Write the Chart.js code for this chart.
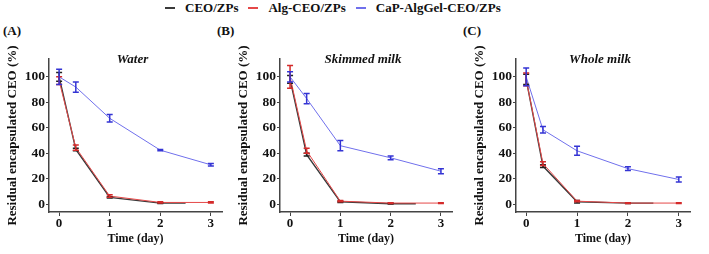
<!DOCTYPE html>
<html>
<head>
<meta charset="utf-8">
<script src="https://cdn.jsdelivr.net/npm/chart.js@4.4.1/dist/chart.umd.min.js"></script>
<style>
    body { margin: 0; background: #fff; }
    #wrap { position: relative; width: 709px; height: 254px; font-family: "Liberation Serif", "Times New Roman", serif; font-weight: bold; color: #111; }
    .panel { position: absolute; top: 0; height: 254px; }
    .lbl { position: absolute; top: 23px; font-size: 13px; line-height: 16px; }
    #legend { position: absolute; top: 0; left: 165px; height: 16px; display: flex; align-items: center; font-size: 13px; white-space: nowrap; }
    #legend .item { display: flex; align-items: center; margin-right: 10px; }
    #legend .sw { display: inline-block; width: 10px; height: 2px; margin-right: 10px; }
</style>
</head>
<body>
<div id="wrap">
    <div id="legend"></div>
    <div class="lbl" style="left:3px">(A)</div>
    <div class="lbl" style="left:217px">(B)</div>
    <div class="lbl" style="left:463px">(C)</div>
    <div class="panel" style="left:0;width:230px"><canvas id="chartA"></canvas></div>
    <div class="panel" style="left:231px;width:230px"><canvas id="chartB"></canvas></div>
    <div class="panel" style="left:467px;width:242px"><canvas id="chartC"></canvas></div>
</div>
<script>
// Datos (tiempo en dias)
const days = [0, 0.33, 1, 2, 3];
const ceoDays = [0, 0.33, 1, 2, 2.5];
const xTicks = [0, 1, 2, 3];
const yTicks = [0, 20, 40, 60, 80, 100];
const seriesNames = ['CEO/ZPs', 'Alg-CEO/ZPs', 'CaP-AlgGel-CEO/ZPs'];
const panelTitles = ['Water', 'Skimmed milk', 'Whole milk'];

// (A) Water
const waterCeo = [100, 43, 5.5, 1, 1];
const waterCeoErr = [3.5, 1, 0.5, 0.3, 0];
const waterAlg = [97, 44.5, 6.5, 1.5, 1.5];
const waterAlgErr = [3, 2, 1, 0.5, 0.5];
const waterCap = [100, 92, 67.5, 42.5, 31];
const waterCapErr = [6, 4, 3, 0.5, 1];

// (B) Skimmed milk
const skimCeo = [98, 39, 2, 0.5, 0.5];
const skimCeoErr = [3, 1, 0.5, 0.3, 0];
const skimAlg = [100, 42, 2.5, 1, 1];
const skimAlgErr = [9, 2, 0.5, 0.3, 0.3];
const skimCap = [100, 83, 46, 36.5, 26];
const skimCapErr = [4, 4, 4, 1.5, 2];

// (C) Whole milk
const wholeCeo = [98, 30, 2, 1, 1];
const wholeCeoErr = [4, 1, 1, 0.3, 0];
const wholeAlg = [98, 32, 2.5, 1, 1];
const wholeAlgErr = [5, 1.5, 0.5, 0.3, 0.3];
const wholeCap = [100, 58.5, 42, 28, 19.5];
const wholeCapErr = [7, 2.5, 3.5, 1.5, 2];

const lineColors = ['#3a3a3a', '#e54848', '#7070ec'];
const errColors = ['#222222', '#d42a2a', '#3434d4'];
const axisColor = '#444';
const serif = '"Liberation Serif", "Times New Roman", serif';

// Leyenda en HTML
seriesNames.forEach((name, i) => {
    const item = document.createElement('span');
    item.className = 'item';
    item.innerHTML = `<span class="sw" style="background:${lineColors[i]}"></span>${name}`;
    document.getElementById('legend').appendChild(item);
});

// Barras de error (dibujadas con las escalas del grafico)
const errorBars = {
    id: 'errorBars',
    afterDatasetsDraw(chart) {
        const ctx = chart.ctx;
        const xs = chart.scales.x, ys = chart.scales.y;
        chart.data.datasets.forEach(ds => {
            ctx.save();
            ctx.strokeStyle = ds.errColor;
            ctx.lineWidth = 1.5;
            ds.data.forEach((p, j) => {
                const e = ds.errors[j];
                if (!e) return;
                const x = xs.getPixelForValue(p.x);
                const y1 = ys.getPixelForValue(p.y - e);
                const y2 = ys.getPixelForValue(p.y + e);
                ctx.beginPath();
                ctx.moveTo(x, y1); ctx.lineTo(x, y2);
                ctx.moveTo(x - 3, y1); ctx.lineTo(x + 3, y1);
                ctx.moveTo(x - 3, y2); ctx.lineTo(x + 3, y2);
                ctx.stroke();
            });
            ctx.restore();
        });
    }
};

// Titulo del panel dentro del area del grafico
const panelTitle = {
    id: 'panelTitle',
    afterDraw(chart, args, opts) {
        const {ctx, chartArea} = chart;
        ctx.save();
        ctx.font = 'italic bold 13px ' + serif;
        ctx.fillStyle = '#111';
        ctx.textAlign = 'center';
        ctx.textBaseline = 'middle';
        ctx.fillText(opts.text, (chartArea.left + chartArea.right) / 2 - 3, chartArea.top + 1);
        ctx.restore();
    }
};

function toPoints(xs, ys) {
    return ys.map((v, i) => ({x: xs[i], y: v}));
}

function crearPanel(id, title, ceo, ceoErr, alg, algErr, cap, capErr, padRight) {
    const sets = [
        {data: toPoints(ceoDays, ceo), errors: ceoErr, order: 3},
        {data: toPoints(days, alg), errors: algErr, order: 2},
        {data: toPoints(days, cap), errors: capErr, order: 1}
    ];
    const datasets = sets.map((s, i) => ({
        label: seriesNames[i],
        data: s.data,
        errors: s.errors,
        errColor: errColors[i],
        order: s.order,
        borderColor: lineColors[i],
        borderWidth: i === 0 ? 1.4 : 1,
        pointRadius: 0,
        tension: 0,
        fill: false
    }));

    new Chart(document.getElementById(id), {
        type: 'line',
        data: {datasets: datasets},
        plugins: [errorBars, panelTitle],
        options: {
            responsive: true,
            maintainAspectRatio: false,
            animation: false,
            layout: {padding: {top: 59, right: padRight, left: 0, bottom: 0}},
            plugins: {
                legend: {display: false},
                tooltip: {enabled: false},
                panelTitle: {text: title}
            },
            scales: {
                x: {
                    type: 'linear',
                    min: -0.2,
                    max: 3.22,
                    afterFit: s => { s.height = 42; },
                    afterBuildTicks: s => { s.ticks = xTicks.map(v => ({value: v})); },
                    grid: {display: true, drawOnChartArea: false, drawTicks: true, tickLength: 4, color: axisColor, lineWidth: 1},
                    border: {display: true, color: axisColor, width: 1.5},
                    ticks: {color: '#111', padding: 0, font: {family: serif, size: 13, weight: 'bold'}},
                    title: {display: true, text: 'Time (day)', color: '#111', padding: {top: 0, bottom: 8}, font: {family: serif, size: 12, weight: 'bold'}}
                },
                y: {
                    min: -6,
                    max: 114,
                    afterFit: s => { s.width = 49; },
                    afterBuildTicks: s => { s.ticks = yTicks.map(v => ({value: v})); },
                    grid: {display: true, drawOnChartArea: false, drawTicks: true, tickLength: 3, color: axisColor, lineWidth: 1},
                    border: {display: true, color: axisColor, width: 1.5},
                    ticks: {color: '#111', padding: 1, font: {family: serif, size: 13.5, weight: 'bold'}},
                    title: {display: true, text: 'Residual encapsulated CEO (%)', color: '#111', padding: {top: 5, bottom: 0}, font: {family: serif, size: 13, weight: 'bold'}}
                }
            }
        }
    });
}

crearPanel('chartA', panelTitles[0], waterCeo, waterCeoErr, waterAlg, waterAlgErr, waterCap, waterCapErr, 8);
crearPanel('chartB', panelTitles[1], skimCeo, skimCeoErr, skimAlg, skimAlgErr, skimCap, skimCapErr, 9);
crearPanel('chartC', panelTitles[2], wholeCeo, wholeCeoErr, wholeAlg, wholeAlgErr, wholeCap, wholeCapErr, 19);
</script>
</body>
</html>
